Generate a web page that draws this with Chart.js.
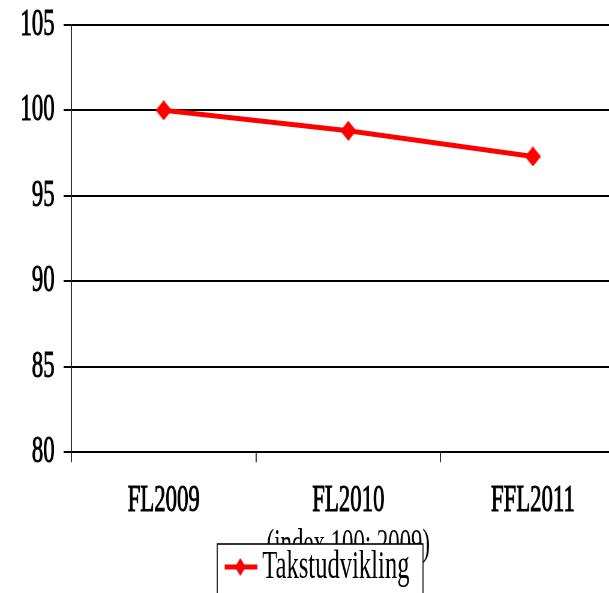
<!DOCTYPE html>
<html>
<head>
<meta charset="utf-8">
<script src="https://cdn.jsdelivr.net/npm/chart.js@4"></script>
<style>
  html, body { margin: 0; padding: 0; overflow: hidden; background: #fff; }
  /* the reference uses a narrow serif, so the whole chart is squeezed horizontally */
  #wrap { width: 1055px; height: 656px; margin-top: -13px; transform: scaleX(0.6); transform-origin: 0 0; }
</style>
</head>
<body>
<div id="wrap"><canvas id="chart"></canvas></div>
<script>
// data
const categories = ['FL2009', 'FL2010', 'FFL2011'];
const seriesName = 'Takstudvikling';
const seriesValues = [100, 98.8, 97.3];
const yTicks = [80, 85, 90, 95, 100, 105];
const axisTitle = '(index 100: 2009)';

const fontFamily = "'Liberation Serif', 'Times New Roman', serif";

// diamond marker (wider than tall because of the horizontal squeeze)
function makeDiamond() {
    const c = document.createElement('canvas');
    c.width = 27; c.height = 20;
    const g = c.getContext('2d');
    g.fillStyle = '#ff0000';
    g.beginPath();
    g.moveTo(0, 10); g.lineTo(13.5, 0); g.lineTo(27, 10); g.lineTo(13.5, 20);
    g.closePath();
    g.fill();
    return c;
}

// legend marker: line with a diamond on it
function makeLegendMarker() {
    const c = document.createElement('canvas');
    c.width = 56; c.height = 20;
    const g = c.getContext('2d');
    g.fillStyle = '#ff0000';
    g.fillRect(0, 7.5, 56, 5);
    g.beginPath();
    g.moveTo(19, 10); g.lineTo(28, 1); g.lineTo(37, 10); g.lineTo(28, 19);
    g.closePath();
    g.fill();
    return c;
}

const diamond = makeDiamond();
const legendMarker = makeLegendMarker();

// moves the legend onto the axis title and gives it a framed white box
const legendBoxPlugin = {
    id: 'legendBox',
    afterLayout(chart) {
        const lg = chart.legend;
        const pad = lg.options.labels.padding;
        const size = lg.options.labels.font.size;
        const top = 580 - pad - size / 2;
        const left = 374.5;
        lg.bottom += top - lg.top; lg.top = top;
        lg.right += left - lg.left; lg.left = left;
        if (!lg._boxed) {
            const draw = lg.draw.bind(lg);
            lg.draw = function() {
                const ctx = chart.ctx;
                ctx.save();
                ctx.fillStyle = '#fff';
                ctx.fillRect(362, 557, 343, 110);
                ctx.strokeStyle = '#000';
                ctx.lineWidth = 1.6;
                ctx.strokeRect(362, 557, 343, 110);
                ctx.restore();
                draw();
            };
            lg._boxed = true;
        }
    }
};

const ctx = document.getElementById('chart').getContext('2d');
new Chart(ctx, {
    type: 'line',
    data: {
        labels: categories,
        datasets: [{
            label: seriesName,
            data: seriesValues,
            borderColor: '#ff0000',
            backgroundColor: '#ff0000',
            borderWidth: 5,
            tension: 0,
            pointStyle: diamond,
            pointRadius: 8
        }]
    },
    options: {
        responsive: true,
        maintainAspectRatio: false,
        animation: false,
        devicePixelRatio: 1,
        layout: { padding: { top: 12, left: 19, right: 0, bottom: 0 } },
        scales: {
            x: {
                offset: true,
                grid: {
                    display: true,
                    drawOnChartArea: false,
                    drawTicks: true,
                    tickLength: 10,
                    color: '#000',
                    lineWidth: 1.7,
                    offset: true,
                    z: -1
                },
                border: { display: false },
                ticks: {
                    color: '#000',
                    padding: 16,
                    textStrokeColor: '#000',
                    textStrokeWidth: 1,
                    font: { family: fontFamily, size: 38 }
                },
                title: {
                    display: true,
                    text: axisTitle,
                    color: '#000',
                    padding: { top: -17.4, bottom: 14 },
                    font: { family: fontFamily, size: 38 }
                }
            },
            y: {
                min: yTicks[0],
                max: yTicks[yTicks.length - 1],
                afterBuildTicks: axis => { axis.ticks = yTicks.map(v => ({ value: v })); },
                grid: {
                    color: '#000',
                    lineWidth: 2,
                    tickLength: 13
                },
                border: { color: '#000', width: 1.7 },
                ticks: {
                    color: '#000',
                    padding: 15,
                    textStrokeColor: '#000',
                    textStrokeWidth: 1,
                    font: { family: fontFamily, size: 38 }
                }
            }
        },
        plugins: {
            tooltip: { enabled: false },
            legend: {
                position: 'bottom',
                align: 'start',
                labels: {
                    color: '#000',
                    padding: 10,
                    usePointStyle: true,
                    pointStyleWidth: 32,
                    font: { family: fontFamily, size: 41 },
                    generateLabels: chart => {
                        const items = Chart.defaults.plugins.legend.labels.generateLabels(chart);
                        items.forEach(it => { it.pointStyle = legendMarker; });
                        return items;
                    }
                }
            }
        }
    },
    plugins: [legendBoxPlugin]
});
</script>
</body>
</html>
